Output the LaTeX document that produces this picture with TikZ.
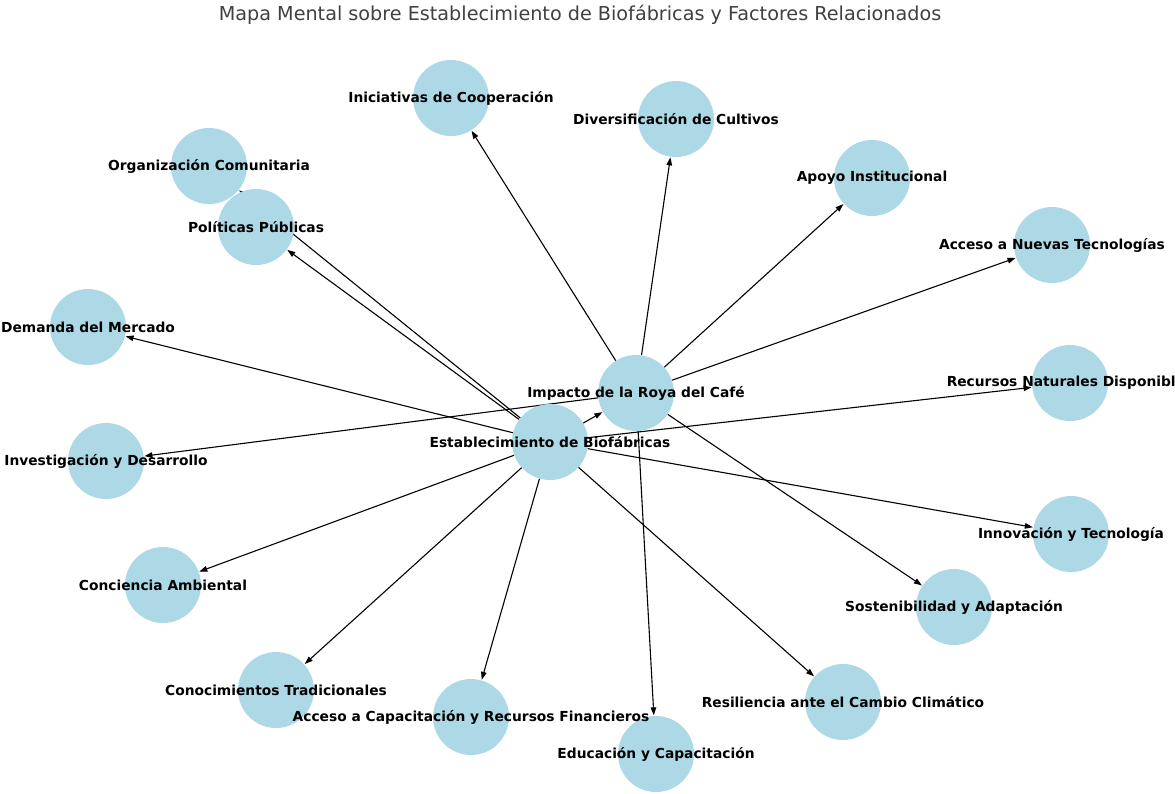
\documentclass[tikz,border=0pt]{standalone}
\usepackage{fontspec}
\setmainfont{DejaVu Sans}
\usetikzlibrary{arrows.meta,backgrounds}
\definecolor{nodeblue}{RGB}{173,216,230}
\definecolor{titlegray}{RGB}{64,64,64}
\tikzset{
  bubble/.style={circle,fill=nodeblue,draw=none,minimum size=76pt,inner sep=0pt},
  lbl/.style={font=\bfseries\fontsize{13.8}{16}\selectfont,text=black,inner sep=0pt},
  arr/.style={-{Triangle[length=8pt,width=5.5pt]},line width=1.1pt,black,shorten >=0.5pt}
}
\begin{document}
\begin{tikzpicture}[x=1pt,y=-1pt]
\useasboundingbox (0,0) rectangle (1175,793);
\clip (0,0) rectangle (1175,793);
\node[font=\fontsize{19.2}{22}\selectfont,text=titlegray] (title) at (580,15) {Mapa Mental sobre Establecimiento de Biofábricas y Factores Relacionados};
% circles
\node[bubble] (ini) at (451,98) {};
\node[bubble] (div) at (676,119) {};
\node[bubble] (org) at (209,166) {};
\node[bubble] (pol) at (256,227) {};
\node[bubble] (apo) at (872,178) {};
\node[bubble] (anv) at (1052,245) {};
\node[bubble] (dem) at (88,327) {};
\node[bubble] (imp) at (636,393) {};
\node[bubble] (rec) at (1070,383) {};
\node[bubble] (est) at (550,442) {};
\node[bubble] (inv) at (106,461) {};
\node[bubble] (inn) at (1071,534) {};
\node[bubble] (con) at (163,585) {};
\node[bubble] (sos) at (954,607) {};
\node[bubble] (ctr) at (276,690) {};
\node[bubble] (acr) at (471,717) {};
\node[bubble] (res) at (843,702) {};
\node[bubble] (edu) at (656,754) {};
% edges
\begin{scope}[on background layer]
\fill[white] (0,0) rectangle (1175,793);
\draw[arr] (est) -- (pol);
\draw[arr] (est) -- (org);
\draw[arr] (est) -- (dem);
\draw[arr] (est) -- (imp);
\draw[arr] (est) -- (rec);
\draw[arr] (est) -- (inn);
\draw[arr] (est) -- (res);
\draw[arr] (est) -- (acr);
\draw[arr] (est) -- (ctr);
\draw[arr] (est) -- (con);
\draw[arr] (imp) -- (ini);
\draw[arr] (imp) -- (div);
\draw[arr] (imp) -- (apo);
\draw[arr] (imp) -- (anv);
\draw[arr] (imp) -- (inv);
\draw[arr] (imp) -- (sos);
\draw[arr] (imp) -- (edu);
\end{scope}
% labels
\node[lbl] (ini-l) at (ini.center) {Iniciativas de Cooperación};
\node[lbl] (div-l) at (div.center) {Diversificación de Cultivos};
\node[lbl] (org-l) at (org.center) {Organización Comunitaria};
\node[lbl] (pol-l) at (pol.center) {Políticas Públicas};
\node[lbl] (apo-l) at (apo.center) {Apoyo Institucional};
\node[lbl] (anv-l) at (anv.center) {Acceso a Nuevas Tecnologías};
\node[lbl] (dem-l) at (dem.center) {Demanda del Mercado};
\node[lbl] (imp-l) at (imp.center) {Impacto de la Roya del Café};
\node[lbl] (rec-l) at (rec.center) {Recursos Naturales Disponibles};
\node[lbl] (est-l) at (est.center) {Establecimiento de Biofábricas};
\node[lbl] (inv-l) at (inv.center) {Investigación y Desarrollo};
\node[lbl] (inn-l) at (inn.center) {Innovación y Tecnología};
\node[lbl] (con-l) at (con.center) {Conciencia Ambiental};
\node[lbl] (sos-l) at (sos.center) {Sostenibilidad y Adaptación};
\node[lbl] (ctr-l) at (ctr.center) {Conocimientos Tradicionales};
\node[lbl] (acr-l) at (acr.center) {Acceso a Capacitación y Recursos Financieros};
\node[lbl] (res-l) at (res.center) {Resiliencia ante el Cambio Climático};
\node[lbl] (edu-l) at (edu.center) {Educación y Capacitación};
\end{tikzpicture}
\end{document}
